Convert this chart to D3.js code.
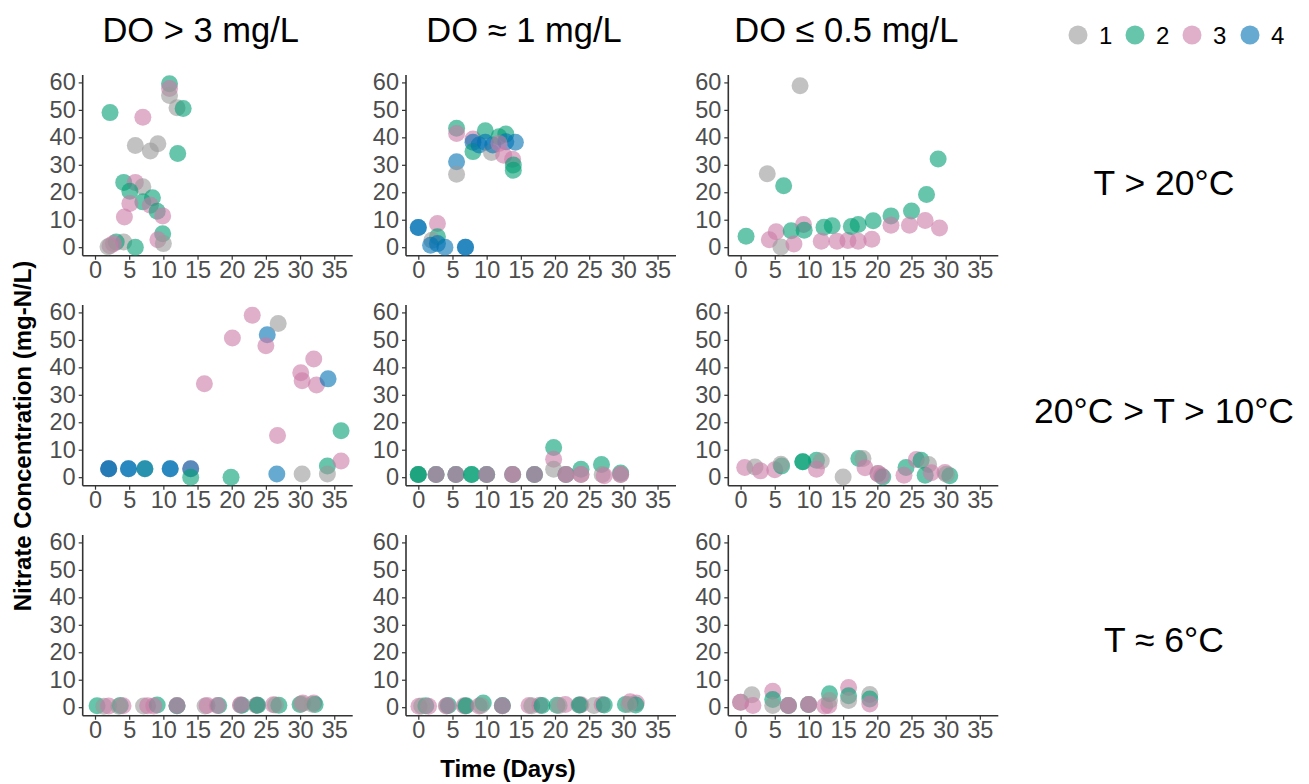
<!DOCTYPE html>
<html>
<head>
<meta charset="utf-8">
<script src="https://cdn.jsdelivr.net/npm/d3@7"></script>
<style>
  body { margin: 0; background: #fff; }
  svg { font-family: "Liberation Sans", Arial, sans-serif; }
</style>
</head>
<body>
<div id="chart"></div>
<script>
// facet labels and groups
const doLevels = ['DO > 3 mg/L', 'DO \u2248 1 mg/L', 'DO \u2264 0.5 mg/L'];
const tempLevels = ['T > 20\u00B0C', '20\u00B0C > T > 10\u00B0C', 'T \u2248 6\u00B0C'];
const groups = ['1', '2', '3', '4'];
const groupColors = ['#999999', '#009E73', '#CC79A7', '#0072B2'];
const xTicks = [0, 5, 10, 15, 20, 25, 30, 35];
const yTicks = [0, 10, 20, 30, 40, 50, 60];

// [day, nitrate, group]
const hotHighDO = [
  [2.2,49,'2'],[7.0,47.3,'3'],[10.9,59.5,'2'],[10.9,57.8,'3'],[10.9,55.2,'1'],[12.0,50.8,'1'],[12.9,50.5,'2'],
  [5.9,37,'1'],[8.1,35,'1'],[9.2,37.7,'1'],[12.1,34.1,'2'],[4.2,23.6,'2'],[5.9,23.6,'3'],[7.0,22,'1'],
  [5.1,20.4,'2'],[8.4,18,'2'],[7.0,16.5,'2'],[5.1,15.9,'3'],[8.1,15.3,'3'],[9.1,13.1,'2'],[9.9,11.4,'3'],
  [4.3,11,'3'],[9.9,4.9,'2'],[9.2,2.7,'3'],[10.0,1.3,'1'],[4.2,1.9,'1'],[3.1,1.9,'2'],[2.2,0.5,'3'],
  [2.7,1.3,'3'],[5.9,0,'2'],[1.9,0.2,'1']
];
const hotMidDO = [
  [0,7.2,'4'],[0,7.2,'4'],[2.8,8.6,'3'],[2.8,3.8,'2'],[2.0,2.5,'1'],[1.8,0.7,'4'],[2.8,1.3,'4'],[3.9,0,'4'],
  [6.9,0,'4'],[6.9,0,'4'],[5.6,43.3,'2'],[5.6,41.4,'3'],[5.6,31.1,'4'],[5.6,26.6,'1'],
  [8.0,39.4,'3'],[8.0,38.2,'4'],[8.0,34.8,'2'],[8.9,37.2,'4'],[9.8,42.4,'2'],[9.8,38.2,'4'],[10.7,34.5,'1'],
  [10.9,37.2,'4'],[11.8,40.2,'2'],[12.8,41.2,'2'],[12.8,38.4,'4'],[12.5,33.5,'3'],[14.2,38.2,'4'],
  [13.8,32,'3'],[13.9,28,'2'],[13.9,29.9,'2'],[11.8,37.8,'3']
];
const hotLowDO = [
  [8.7,58.8,'1'],[3.9,26.7,'1'],[6.3,22.4,'2'],[0.8,4,'2'],[4.2,2.7,'3'],[5.2,5.6,'3'],[5.9,0.1,'1'],
  [7.4,6,'2'],[7.8,1.2,'3'],[9.2,8.3,'3'],[9.3,6.2,'2'],[12.2,7.3,'2'],[13.4,7.8,'2'],[11.8,2.2,'3'],
  [14.1,2.2,'3'],[15.7,2.4,'3'],[16.2,7.5,'2'],[17.2,8.3,'2'],[17.2,2.2,'3'],[19.4,9.6,'2'],[19.2,2.9,'3'],
  [22.0,11.4,'2'],[22.0,8,'3'],[25.0,13.2,'2'],[24.7,8,'3'],[27.0,9.7,'3'],[27.2,19.2,'2'],[29.1,7,'3'],
  [28.9,32.1,'2']
];
const midHighDO = [
  [2,3.1,'3'],[2,3.1,'4'],[2,3.1,'4'],[4.9,3.1,'4'],[4.9,3.1,'4'],[7.3,3.1,'2'],[7.3,3.1,'4'],
  [11,3.1,'4'],[11,3.1,'4'],[14,3.1,'3'],[14,3.1,'4'],[14,0,'2'],[16,34,'3'],[19.9,0,'2'],[20.1,50.7,'3'],
  [23,59,'3'],[25.2,51.9,'4'],[25,47.9,'3'],[26.8,56,'1'],[26.7,15.2,'3'],[26.6,1.2,'4'],[30.1,38,'3'],
  [30.3,35.1,'3'],[30.3,1.2,'1'],[32,43,'3'],[32.4,33.6,'3'],[34.1,35.8,'4'],[34,4.1,'2'],[34,1.2,'1'],
  [36,16.9,'2'],[36,5.9,'3']
];
const midMidDO = [
  [0,1,'1'],[0,1,'2'],[0,1,'2'],[2.6,1,'1'],[2.6,1,'2'],[2.6,1,'3'],[5.5,1,'1'],[5.5,1,'2'],[5.5,1,'3'],
  [7.8,1,'2'],[7.8,1,'2'],[10,1,'1'],[10,1,'2'],[10,1,'3'],[13.8,1,'2'],[13.8,1,'1'],[13.8,1,'3'],
  [17,1,'1'],[17,1,'2'],[17,1,'3'],[19.8,10.8,'2'],[19.8,6.5,'3'],[19.8,2.9,'1'],[21.6,1,'2'],[21.6,1,'1'],
  [21.6,1,'3'],[23.8,2.9,'2'],[23.8,1,'1'],[23.8,1,'3'],[26.8,4.6,'2'],[26.9,1,'1'],[27.2,0.5,'3'],
  [29.6,1.5,'2'],[29.6,1,'1'],[29.6,1,'3']
];
const midLowDO = [
  [0.6,3.5,'3'],[2.1,3.7,'1'],[2.9,2.3,'3'],[5,2.7,'3'],[6,4.1,'2'],[5.9,4.7,'1'],[9.1,5.6,'2'],
  [9.1,5.6,'2'],[11.1,6.2,'2'],[11.8,5.9,'1'],[11.1,2.9,'3'],[15,0.1,'1'],[17.3,6.8,'2'],[17.9,6.8,'1'],
  [18.2,3.4,'3'],[20.1,1.3,'1'],[20.1,1.3,'3'],[20.8,0.1,'2'],[20.6,0.5,'3'],[24.2,3.5,'2'],[23.9,0.7,'3'],
  [25.7,6.4,'3'],[26.4,6.2,'2'],[27.5,4.6,'1'],[27,0.7,'2'],[27.9,1.6,'3'],[29.9,1.7,'3'],[30.6,0.5,'2'],
  [30.1,1.1,'1']
];
const coldHighDO = [
  [0.3,0.5,'2'],[1.3,0.3,'1'],[2,0.4,'3'],[3.7,0.6,'2'],[4.1,0.5,'3'],[3.5,0.3,'1'],[7.1,0.4,'1'],
  [7.7,0.5,'3'],[9.1,0.8,'2'],[8.6,0.4,'3'],[12,0.5,'1'],[12,0.5,'2'],[12,0.6,'3'],[16.1,0.4,'1'],
  [16.4,0.6,'3'],[18.1,0.6,'2'],[17.9,0.6,'3'],[21.3,0.7,'1'],[21.5,0.7,'2'],[21.3,0.9,'3'],[23.6,0.7,'1'],
  [23.7,0.8,'3'],[23.8,0.7,'2'],[26.1,0.9,'3'],[26.9,0.7,'2'],[26.4,0.8,'1'],[30,1,'2'],[30.4,1.5,'3'],
  [30.2,1.2,'1'],[32,1.5,'3'],[32.2,1,'2'],[31.8,1.1,'1']
];
const coldMidDO = [
  [0.1,0.3,'3'],[1.1,0.5,'2'],[1.5,0.3,'3'],[0.5,0.4,'1'],[4.1,0.4,'1'],[4.4,0.6,'2'],[4.2,0.5,'3'],
  [6.7,0.5,'3'],[6.9,0.4,'1'],[7.0,0.5,'2'],[8.9,0.4,'3'],[9.5,1.5,'2'],[9.2,0.6,'1'],[12.3,0.5,'1'],
  [12.3,0.6,'2'],[12.3,0.5,'3'],[16.2,0.6,'3'],[16.6,0.5,'1'],[17.8,0.7,'3'],[18.1,0.6,'2'],[20.3,0.7,'2'],
  [21.5,1,'3'],[20.6,0.6,'1'],[23.5,0.8,'1'],[23.8,0.9,'3'],[23.6,0.8,'2'],[25.7,0.6,'1'],[26.9,1,'3'],
  [27.2,0.8,'2'],[30.3,1,'2'],[31,2,'3'],[31.9,1.5,'3'],[31.8,0.8,'2'],[30.8,1,'1']
];
const coldLowDO = [
  [0,1.8,'1'],[0,1.8,'3'],[1.65,4.5,'1'],[1.8,0.6,'3'],[4.7,5.8,'3'],[4.7,2.8,'2'],[4.7,0.6,'1'],
  [7,0.6,'2'],[7,0.6,'1'],[7,0.6,'3'],[9.95,1,'2'],[9.95,1,'1'],[9.95,1,'3'],[12.3,0.4,'3'],[13,4.9,'2'],
  [12.9,0.6,'3'],[13,2.4,'1'],[15.8,7.2,'3'],[15.8,4.2,'2'],[15.8,2.4,'1'],[18.9,4.6,'1'],[18.9,3,'2'],
  [18.9,1.2,'3']
];
const panelData = [
  [hotHighDO, hotMidDO, hotLowDO],
  [midHighDO, midMidDO, midLowDO],
  [coldHighDO, coldMidDO, coldLowDO]
];

const W = 1309, H = 784;
const colLeft = [82.7, 406, 728.3];
const rowTop = [75, 305, 535];
const pw = 270, ph = 180.7;

const svg = d3.select('#chart').append('svg').attr('width', W).attr('height', H);

const x = d3.scaleLinear().domain([-1.8, 37.7]).range([0, pw]);
const y = d3.scaleLinear().domain([-3.1, 62.7]).range([ph, 0]);
const color = d3.scaleOrdinal().domain(groups).range(groupColors);

panelData.forEach((row, ri) => {
  row.forEach((pts, ci) => {
    const g = svg.append('g').attr('transform', `translate(${colLeft[ci]},${rowTop[ri]})`);

    const ax = g.append('g').attr('transform', `translate(0,${ph})`)
      .call(d3.axisBottom(x).tickValues(xTicks).tickSize(4).tickPadding(2));
    const ay = g.append('g')
      .call(d3.axisLeft(y).tickValues(yTicks).tickSize(4).tickPadding(3));
    [ax, ay].forEach(a => {
      a.select('.domain').attr('stroke', '#333').attr('stroke-width', 1.6);
      a.selectAll('.tick line').attr('stroke', '#333').attr('stroke-width', 1.2);
      a.selectAll('.tick text').attr('fill', '#4d4d4d').attr('font-size', 23.5)
        .attr('font-family', '"Liberation Sans", Arial, sans-serif');
    });
    // ggplot style axis lines without outer end ticks
    ax.select('.domain').attr('d', `M0,0H${pw}`);
    ay.select('.domain').attr('d', `M0,0V${ph}`);

    g.selectAll('circle').data(pts).enter().append('circle')
      .attr('cx', d => x(d[0]))
      .attr('cy', d => y(d[1]))
      .attr('r', 8.5)
      .attr('fill', d => color(d[2]))
      .attr('fill-opacity', 0.6);
  });
});

// column strips
doLevels.forEach((t, i) => {
  svg.append('text').attr('x', colLeft[i] + pw / 2 - 17).attr('y', 42)
    .attr('text-anchor', 'middle').attr('font-size', 34.5).attr('fill', '#000').text(t);
});
// row labels
const rowY = [183, 411, 640];
tempLevels.forEach((t, i) => {
  svg.append('text').attr('x', 1164).attr('y', rowY[i]).attr('dy', '0.35em')
    .attr('text-anchor', 'middle').attr('font-size', 35.5).attr('fill', '#000').text(t);
});

// legend
const legX = [1078, 1135, 1192, 1250];
const lg = svg.append('g');
groups.forEach((gname, i) => {
  lg.append('circle').attr('cx', legX[i]).attr('cy', 35).attr('r', 9.5)
    .attr('fill', color(gname)).attr('fill-opacity', 0.6);
  lg.append('text').attr('x', legX[i] + 21).attr('y', 35).attr('dy', '0.36em')
    .attr('font-size', 24).attr('fill', '#000').text(gname);
});

// axis titles
svg.append('text').attr('x', 508).attr('y', 777).attr('text-anchor', 'middle')
  .attr('font-size', 24).attr('font-weight', 'bold').text('Time (Days)');
svg.append('text').attr('transform', 'translate(31,436) rotate(-90)').attr('text-anchor', 'middle')
  .attr('font-size', 24).attr('font-weight', 'bold').text('Nitrate Concentration (mg-N/L)');
</script>
</body>
</html>
